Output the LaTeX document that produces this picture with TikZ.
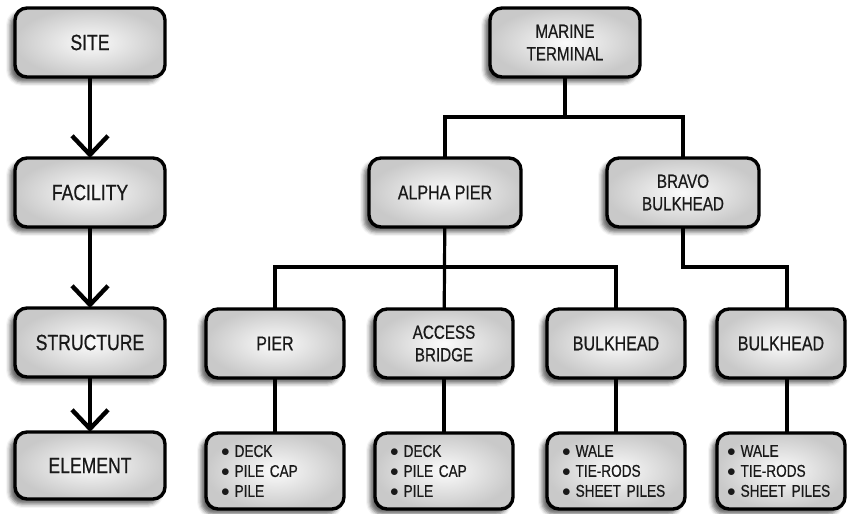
\documentclass[tikz,border=0pt]{standalone}
\usepackage{fontspec}
\setmainfont[FakeStretch=0.8, FakeBold=0.6]{Liberation Sans}
\usetikzlibrary{arrows.meta, positioning, shadows.blur}
\tikzset{
    stage/.style={rectangle, rounded corners=12pt, draw=black, line width=3.4pt, outer sep=0pt, minimum width=150pt, minimum height=69pt, align=center, text=black!90, inner color=gray!3, outer color=gray!42, blur shadow={shadow xshift=-5pt, shadow yshift=-5pt, shadow blur radius=4pt, shadow opacity=60}},
    parts/.style={stage, minimum width=138pt, minimum height=76pt, text width=108pt, align=left, font=\fontsize{17}{20}\selectfont},
    arrow/.style={line width=3.2pt, -{Straight Barb[length=19pt, width=36pt, line width=4.4pt]}},
    link/.style={line width=3.2pt}
}

\begin{document}
\begin{tikzpicture}[x=1pt, y=1pt]
    \useasboundingbox (0,0) rectangle (847,514);

    % --- HIERARCHIE (gauche) ---
    \node (site) [stage, font=\fontsize{22}{24}\selectfont] at (90,471.5) {SITE};
    \node (facility) [stage, below=81pt of site, font=\fontsize{22}{24}\selectfont] {FACILITY};
    \node (structure) [stage, below=81pt of facility, font=\fontsize{22}{24}\selectfont] {STRUCTURE};
    \node (element) [stage, below=55pt of structure, minimum height=67pt, font=\fontsize{22}{24}\selectfont] {ELEMENT};

    % --- TERMINAL ---
    \node (terminal) [stage, font=\fontsize{19}{22.5}\selectfont] at (565,471.5) {MARINE\\TERMINAL};
    \node (alpha) [stage, minimum width=152pt, below=81pt of terminal, xshift=-120pt, font=\fontsize{20}{22}\selectfont] {ALPHA PIER};
    \node (bravo) [stage, minimum width=152pt, right=86pt of alpha, font=\fontsize{19}{22.5}\selectfont] {BRAVO\\BULKHEAD};

    % --- STRUCTURES ---
    \node (pier) [stage, minimum width=138pt, below=82pt of alpha, xshift=-170pt, font=\fontsize{20}{22}\selectfont] {PIER};
    \node (access) [stage, minimum width=138pt, right=31pt of pier, font=\fontsize{19}{22.5}\selectfont] {ACCESS\\BRIDGE};
    \node (bulk_alpha) [stage, minimum width=138pt, right=34pt of access, font=\fontsize{20}{22}\selectfont] {BULKHEAD};
    \node (bulk_bravo) [stage, minimum width=128pt, right=32pt of bulk_alpha, font=\fontsize{20}{22}\selectfont] {BULKHEAD};

    % --- ELEMENTS ---
    \node (pier_parts) [parts, below=55pt of pier] {$\bullet$\hspace{5pt}DECK\\ $\bullet$\hspace{5pt}PILE CAP\\ $\bullet$\hspace{5pt}PILE};
    \node (access_parts) [parts, below=55pt of access] {$\bullet$\hspace{5pt}DECK\\ $\bullet$\hspace{5pt}PILE CAP\\ $\bullet$\hspace{5pt}PILE};
    \node (bulk_alpha_parts) [parts, below=55pt of bulk_alpha] {$\bullet$\hspace{5pt}WALE\\ $\bullet$\hspace{5pt}TIE-RODS\\ $\bullet$\hspace{5pt}SHEET PILES};
    \node (bulk_bravo_parts) [parts, minimum width=128pt, below=55pt of bulk_bravo] {$\bullet$\hspace{5pt}WALE\\ $\bullet$\hspace{5pt}TIE-RODS\\ $\bullet$\hspace{5pt}SHEET PILES};

    % points de jonction
    \coordinate [below=40pt of terminal.south] (terminal_join);
    \coordinate [below=40pt of alpha.south] (alpha_join);
    \coordinate [below=40pt of bravo.south] (bravo_join);

    % --- FLECHES ---
    \draw [arrow] (site) -- (facility);
    \draw [arrow] (facility) -- (structure);
    \draw [arrow] (structure) -- (element);

    % --- LIENS ---
    \draw [link] (terminal) -- (terminal_join);
    \draw [link] (alpha.north) |- (terminal_join) -| (bravo.north);
    \draw [link] (alpha) -- (access);
    \draw [link] (pier.north) |- (alpha_join) -| (bulk_alpha.north);
    \draw [link] (bravo.south) -- (bravo_join) -| ([xshift=6pt]bulk_bravo.north);

    \draw [link] (pier) -- (pier_parts);
    \draw [link] (access) -- (access_parts);
    \draw [link] (bulk_alpha) -- (bulk_alpha_parts);
    \draw [link] ([xshift=6pt]bulk_bravo.south) -- ([xshift=6pt]bulk_bravo_parts.north);

\end{tikzpicture}
\end{document}
